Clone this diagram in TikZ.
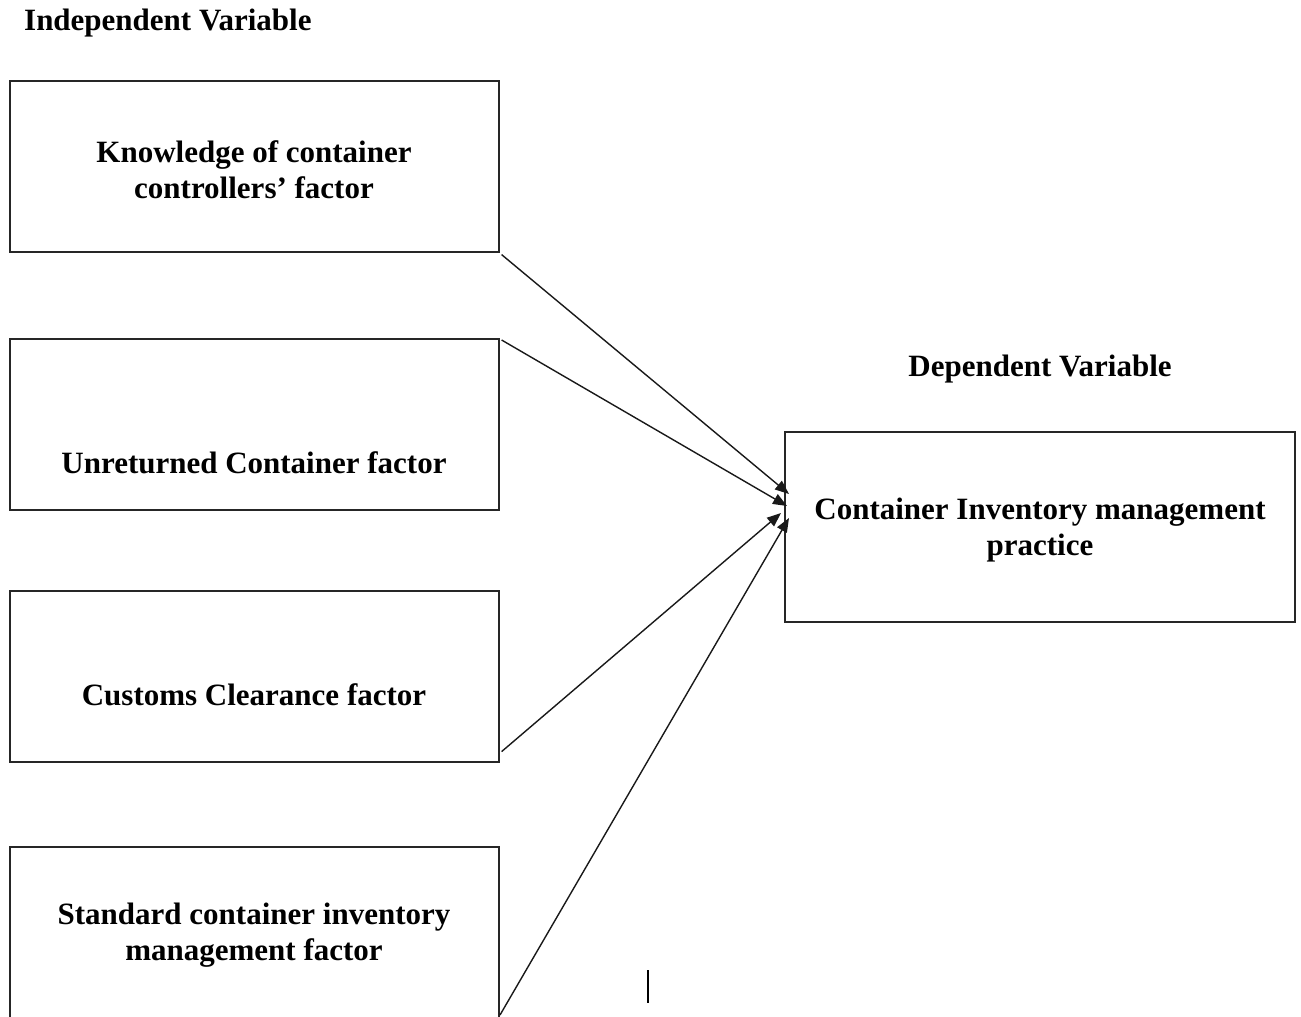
\documentclass[tikz,border=0pt]{standalone}
\usepackage{fontspec}
\setmainfont{Liberation Serif}
\usetikzlibrary{arrows.meta}
\begin{document}
\begin{tikzpicture}[x=1pt,y=-1pt,
  box/.style={draw=black!85,line width=1.6pt,minimum width=489pt,inner sep=0pt,anchor=north west},
  txt/.style={font=\fontsize{31}{36}\selectfont\bfseries,align=center,inner sep=0pt},
  conn/.style={draw=black!90,line width=1.4pt,-{Triangle[length=14pt,width=11pt]}}]
\useasboundingbox (0,0) rectangle (1301,1017);
\clip (0,0) rectangle (1301,1017);
\node[txt,anchor=west] (iv) at (24,23) {Independent Variable};
\node[txt] (dv) at (1040,369) {Dependent Variable};
\node[box,minimum height=171pt] (b1) at (9,80) {};
\node[box,minimum height=171pt] (b2) at (9,338) {};
\node[box,minimum height=171pt] (b3) at (9,590) {};
\node[box,minimum height=200pt] (b4) at (9,846) {};
\node[box,minimum width=510pt,minimum height=190pt] (b5) at (784,431) {};
\node[txt] (t1) at (254,170) {Knowledge of container\\controllers’ factor};
\node[txt] (t2) at (254,463) {Unreturned Container factor};
\node[txt] (t3) at (254,695) {Customs Clearance factor};
\node[txt] (t4) at (254,935) {Standard container inventory\\management factor};
\node[txt] (t5) at (1040,530) {Container Inventory management\\practice};
\coordinate (e1) at (789,494);
\coordinate (e2) at (787,506);
\coordinate (e3) at (781,513);
\coordinate (e4) at (789,518);
\draw[conn] (b1.south east) ++(2,2) coordinate (s1) (s1) -- (e1);
\draw[conn] (b2.north east) ++(2,2) coordinate (s2) (s2) -- (e2);
\draw[conn] (b3.south east) ++(2,-11) coordinate (s3) (s3) -- (e3);
\coordinate (s4) at (500,1015);
\draw[conn] (s4) -- (e4);
\coordinate (c1) at (648,970);
\coordinate (c2) at (648,1003);
\draw[line width=1.3pt] (c1) -- (c2);
\end{tikzpicture}
\end{document}
